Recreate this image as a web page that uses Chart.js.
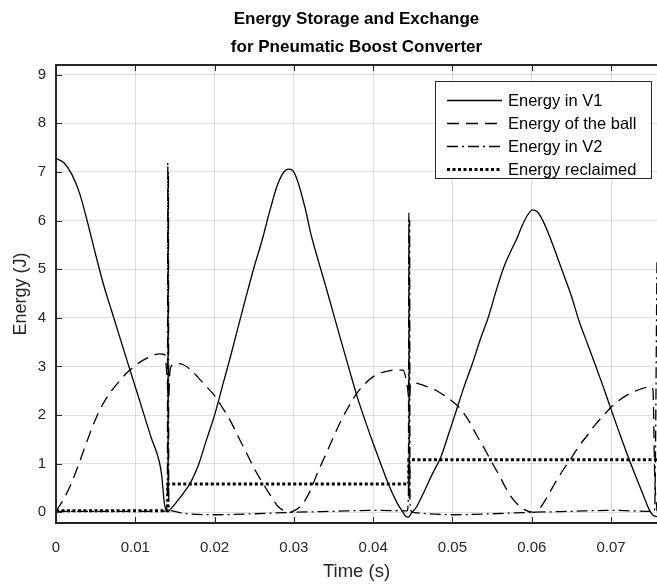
<!DOCTYPE html>
<html>
<head>
<meta charset="utf-8">
<script src="https://cdn.jsdelivr.net/npm/chart.js@4.4.1/dist/chart.umd.min.js"></script>
<style>
  html, body { margin: 0; padding: 0; background: #fff; }
  canvas { display: block; }
</style>
</head>
<body>
<canvas id="chart" width="657" height="585"></canvas>
<script>
// Values (time in s, energy in J)
const v1Time = [
  0, 0.001, 0.002, 0.003, 0.004, 0.005, 0.006, 0.007, 0.009, 0.011,
  0.012, 0.013, 0.0133, 0.0137, 0.0141, 0.0145, 0.015, 0.016, 0.017, 0.018,
  0.019, 0.020, 0.021, 0.022, 0.023, 0.024, 0.025, 0.026, 0.027, 0.0279,
  0.0285, 0.029, 0.0294, 0.0299, 0.0305, 0.0314, 0.0322, 0.033, 0.034, 0.035,
  0.036, 0.037, 0.038, 0.039, 0.040, 0.041, 0.042, 0.043, 0.0436, 0.0441,
  0.04445, 0.0448, 0.0455, 0.0465, 0.0475, 0.0485, 0.0495, 0.0505, 0.0515, 0.0525,
  0.0535, 0.0545, 0.0555, 0.0565, 0.0575, 0.0581, 0.0588, 0.0595, 0.0601, 0.0607,
  0.0614, 0.0622, 0.063, 0.064, 0.065, 0.066, 0.067, 0.068, 0.069, 0.070,
  0.071, 0.072, 0.073, 0.074, 0.0749, 0.0753, 0.0758
];
const v1Energy = [
  7.28, 7.19, 6.95, 6.55, 5.95, 5.3, 4.68, 4.15, 3.1, 2.06,
  1.54, 1.06, 0.8, 0.15, 0.02, 0.07, 0.17, 0.38, 0.62, 0.99,
  1.5, 2.0, 2.6, 3.2, 3.83, 4.45, 5.05, 5.6, 6.22, 6.72,
  6.94, 7.04, 7.06, 7.02, 6.8, 6.27, 5.69, 5.22, 4.66, 4.08,
  3.5, 2.93, 2.37, 1.88, 1.42, 0.98, 0.55, 0.2, 0.04, -0.08,
  -0.1, -0.02, 0.12, 0.45, 0.8, 1.12, 1.6, 2.1, 2.6, 3.05,
  3.55, 4.0, 4.55, 5.05, 5.42, 5.62, 5.9, 6.12, 6.22, 6.18,
  6.0, 5.7, 5.35, 4.9, 4.45, 3.92, 3.48, 3.04, 2.59, 2.12,
  1.66, 1.21, 0.79, 0.38, 0.03, -0.06, -0.09
];

const ballTime = [
  0, 0.001, 0.002, 0.003, 0.004, 0.005, 0.006, 0.007, 0.008, 0.009,
  0.010, 0.011, 0.012, 0.013, 0.0137, 0.01405, 0.0142, 0.01435, 0.0145, 0.0152,
  0.016, 0.017, 0.018, 0.019, 0.020, 0.021, 0.022, 0.023, 0.024, 0.025,
  0.026, 0.027, 0.028, 0.029, 0.0295, 0.030, 0.031, 0.032, 0.033, 0.034,
  0.035, 0.036, 0.037, 0.038, 0.039, 0.040, 0.041, 0.042, 0.043, 0.0438,
  0.0443, 0.04455, 0.0447, 0.0452, 0.046, 0.047, 0.048, 0.049, 0.050, 0.051,
  0.052, 0.053, 0.054, 0.055, 0.056, 0.057, 0.058, 0.059, 0.0603, 0.061,
  0.062, 0.063, 0.064, 0.065, 0.066, 0.067, 0.068, 0.069, 0.070, 0.071,
  0.072, 0.073, 0.074, 0.0751, 0.0753, 0.0755, 0.0758
];
const ballEnergy = [
  0.02, 0.28, 0.62, 1.05, 1.5, 1.92, 2.25, 2.5, 2.7, 2.88,
  3.02, 3.13, 3.21, 3.26, 3.25, 2.7, 2.35, 2.85, 3.0, 3.06,
  3.04, 2.93, 2.76, 2.58, 2.4, 2.15, 1.88, 1.55, 1.23, 0.9,
  0.62, 0.36, 0.12, 0.02, 0.0, 0.03, 0.15, 0.42, 0.82, 1.18,
  1.55, 1.9, 2.2, 2.46, 2.65, 2.79, 2.87, 2.91, 2.93, 2.92,
  2.6, 2.3, 2.62, 2.66, 2.63, 2.57, 2.5, 2.4, 2.28, 2.13,
  1.9, 1.6, 1.32, 1.02, 0.73, 0.42, 0.2, 0.06, 0.0, 0.08,
  0.33, 0.62, 0.88, 1.12, 1.37, 1.58, 1.8, 1.98, 2.16, 2.3,
  2.41, 2.49, 2.55, 2.58, 2.5, 0.8, 0.02
];

const v2Time = [
  0, 0.005, 0.01, 0.0135, 0.0139, 0.01405, 0.0141, 0.01414, 0.01418, 0.01422,
  0.0145, 0.016, 0.02, 0.025, 0.03, 0.035, 0.04, 0.0443, 0.04445, 0.0445,
  0.04455, 0.0446, 0.04465, 0.0449, 0.05, 0.055, 0.06, 0.065, 0.07, 0.075,
  0.0755, 0.0758
];
const v2Energy = [
  0.02, 0.02, 0.02, 0.02, 0.03, 0.5, 7.19, 0.4, 7.0, 0.2,
  0.03, -0.02, -0.05, -0.03, 0.0, 0.02, 0.04, 0.03, 0.4, 6.16,
  0.3, 6.0, 0.2, 0.0, -0.05, -0.03, 0.0, 0.02, 0.04, 0.02,
  0.05, 5.2
];

const reclaimTime = [0, 0.0141, 0.0445, 0.0758];
const reclaimEnergy = [0.03, 0.58, 1.08, 1.08];

const xTicks = [0, 0.01, 0.02, 0.03, 0.04, 0.05, 0.06, 0.07];
const xTickLabels = ['0', '0.01', '0.02', '0.03', '0.04', '0.05', '0.06', '0.07'];
const yTicks = [0, 1, 2, 3, 4, 5, 6, 7, 8, 9];
const seriesNames = ['Energy in V1', 'Energy of the ball', 'Energy in V2', 'Energy reclaimed'];
const titleLines = ['Energy Storage and Exchange', 'for Pneumatic Boost Converter'];

const FONT = '"Liberation Sans", Arial, Helvetica, sans-serif';
const AXIS_COLOR = '#262626';
Chart.defaults.font.family = FONT;

const toPoints = (xs, ys) => xs.map((x, i) => ({ x: x, y: ys[i] }));

// title centred over the plot area
const plotTitle = {
  id: 'plotTitle',
  afterDraw(chart) {
    const { ctx, chartArea } = chart;
    const cx = (chartArea.left + chartArea.right) / 2;
    ctx.save();
    ctx.fillStyle = '#000';
    ctx.font = 'bold 17px ' + FONT;
    ctx.textAlign = 'center';
    ctx.textBaseline = 'middle';
    ctx.fillText(titleLines[0], cx, 19);
    ctx.fillText(titleLines[1], cx, 47);
    ctx.restore();
  }
};

// MATLAB-like box: axis lines with inward tick marks
const axesBox = {
  id: 'axesBox',
  afterDatasetsDraw(chart) {
    const { ctx, chartArea: a, scales } = chart;
    const tl = 6;
    ctx.save();
    ctx.strokeStyle = AXIS_COLOR;
    ctx.lineWidth = 1;
    ctx.beginPath();
    xTicks.forEach((v) => {
      const px = Math.round(scales.x.getPixelForValue(v)) + 0.5;
      ctx.moveTo(px, a.bottom);
      ctx.lineTo(px, a.bottom - tl);
      ctx.moveTo(px, a.top);
      ctx.lineTo(px, a.top + tl);
    });
    yTicks.forEach((v) => {
      const py = Math.round(scales.y.getPixelForValue(v)) + 0.5;
      ctx.moveTo(a.left, py);
      ctx.lineTo(a.left + tl, py);
    });
    ctx.stroke();
    ctx.lineWidth = 2;
    ctx.beginPath();
    ctx.moveTo(a.right, a.top);
    ctx.lineTo(a.left, a.top);
    ctx.lineTo(a.left, a.bottom);
    ctx.lineTo(a.right, a.bottom);
    ctx.stroke();
    ctx.restore();
  }
};

// boxed legend in the top right corner of the plot
const legendBox = {
  id: 'legendBox',
  afterDraw(chart) {
    const { ctx, chartArea: a } = chart;
    const w = 216, h = 97, rowH = 23;
    const left = a.right - w - 6;
    const top = a.top + 16;
    ctx.save();
    ctx.fillStyle = '#fff';
    ctx.fillRect(left, top, w, h);
    ctx.strokeStyle = AXIS_COLOR;
    ctx.lineWidth = 1;
    ctx.strokeRect(left + 0.5, top + 0.5, w, h);
    chart.data.datasets.forEach((ds, i) => {
      const yy = top + 19.5 + i * rowH;
      ctx.beginPath();
      ctx.setLineDash(ds.borderDash || []);
      ctx.lineWidth = ds.borderWidth;
      ctx.strokeStyle = ds.borderColor;
      ctx.moveTo(left + 12, yy);
      ctx.lineTo(left + 67, yy);
      ctx.stroke();
      ctx.setLineDash([]);
      ctx.fillStyle = '#000';
      ctx.font = '16.5px ' + FONT;
      ctx.textBaseline = 'middle';
      ctx.fillText(seriesNames[i], left + 73, yy + 1);
    });
    ctx.restore();
  }
};

const lineBase = {
  borderColor: '#000',
  backgroundColor: '#000',
  pointRadius: 0,
  fill: false,
  borderWidth: 1.3,
  borderCapStyle: 'butt'
};

new Chart(document.getElementById('chart'), {
  type: 'line',
  data: {
    datasets: [
      Object.assign({}, lineBase, {
        label: seriesNames[0],
        data: toPoints(v1Time, v1Energy),
        cubicInterpolationMode: 'monotone'
      }),
      Object.assign({}, lineBase, {
        label: seriesNames[1],
        data: toPoints(ballTime, ballEnergy),
        borderDash: [12, 7],
        cubicInterpolationMode: 'monotone'
      }),
      Object.assign({}, lineBase, {
        label: seriesNames[2],
        data: toPoints(v2Time, v2Energy),
        borderDash: [11, 4, 2, 4],
        cubicInterpolationMode: 'monotone'
      }),
      Object.assign({}, lineBase, {
        label: seriesNames[3],
        data: toPoints(reclaimTime, reclaimEnergy),
        borderWidth: 3,
        borderDash: [3, 2.5],
        stepped: 'before'
      })
    ]
  },
  options: {
    responsive: false,
    animation: false,
    devicePixelRatio: 1,
    layout: { padding: { top: 65, right: 0, bottom: 0, left: 0 } },
    plugins: {
      legend: { display: false },
      title: { display: false },
      tooltip: { enabled: false }
    },
    scales: {
      x: {
        type: 'linear',
        min: 0,
        max: 0.0758,
        afterFit: (s) => { s.height = 62; },
        afterBuildTicks: (s) => { s.ticks = xTicks.map((v) => ({ value: v })); },
        grid: { color: 'rgba(38,38,38,0.15)', drawTicks: false },
        border: { display: false },
        ticks: {
          color: AXIS_COLOR,
          font: { size: 15 },
          padding: 16,
          maxRotation: 0,
          autoSkip: false,
          callback: (v, i) => xTickLabels[i]
        },
        title: {
          display: true,
          text: 'Time (s)',
          color: AXIS_COLOR,
          font: { size: 18.5 },
          padding: { top: 0, bottom: 2 }
        }
      },
      y: {
        type: 'linear',
        min: -0.22,
        max: 9.2,
        afterFit: (s) => { s.width = 56; },
        afterBuildTicks: (s) => { s.ticks = yTicks.map((v) => ({ value: v })); },
        grid: { color: 'rgba(38,38,38,0.15)', drawTicks: false },
        border: { display: false },
        ticks: {
          color: AXIS_COLOR,
          font: { size: 15 },
          padding: 10,
          autoSkip: false,
          callback: (v) => String(v)
        },
        title: {
          display: true,
          text: 'Energy (J)',
          color: AXIS_COLOR,
          font: { size: 18 },
          padding: { top: 10, bottom: 0 }
        }
      }
    }
  },
  plugins: [axesBox, legendBox, plotTitle]
});
</script>
</body>
</html>
